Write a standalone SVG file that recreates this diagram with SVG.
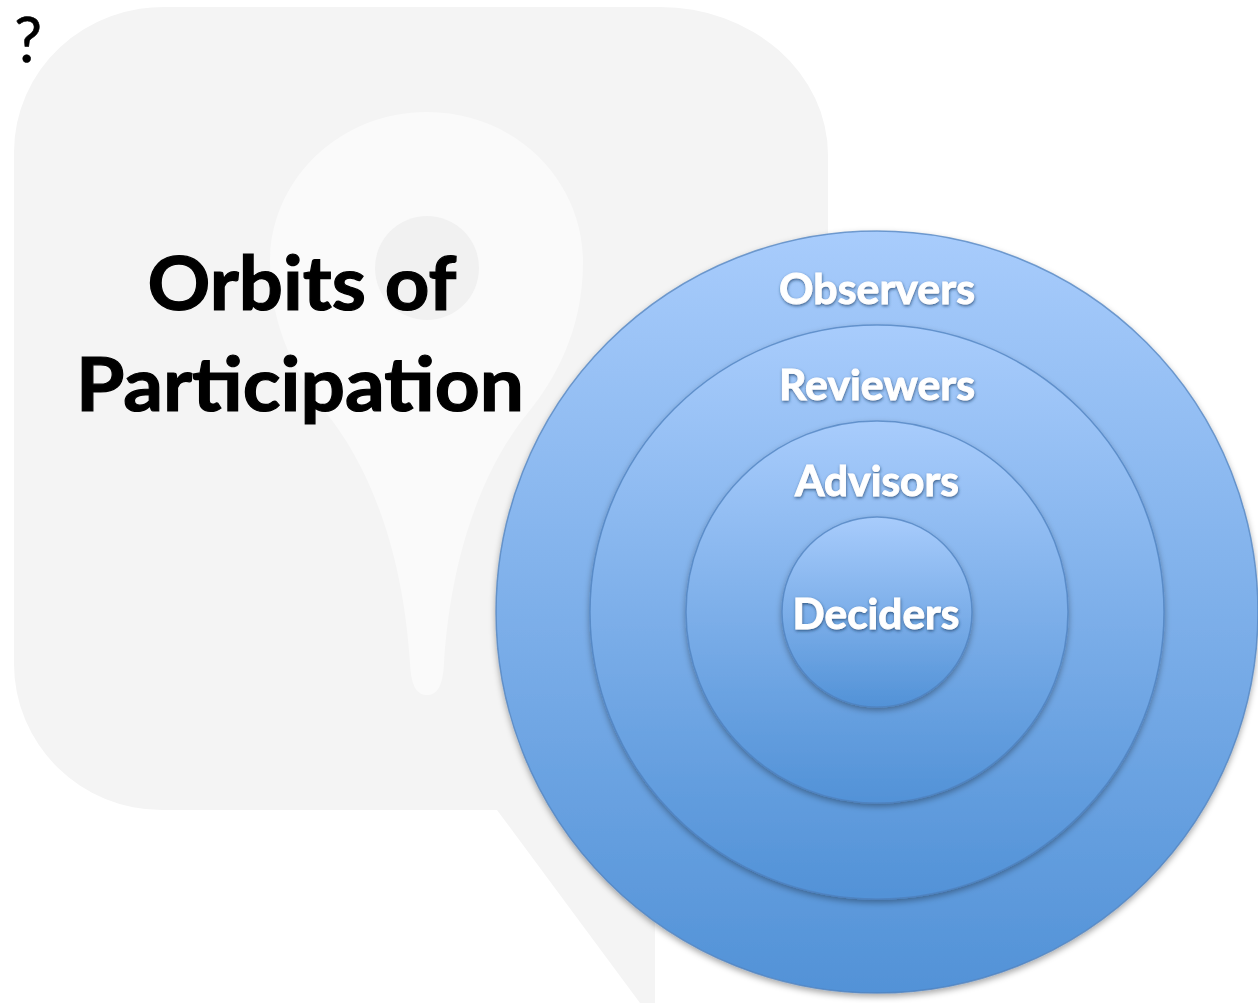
<svg xmlns="http://www.w3.org/2000/svg" width="1258" height="1003" viewBox="0 0 1258 1003">
  <defs>
    <linearGradient id="orbitGrad" x1="0" y1="0" x2="0" y2="1">
      <stop offset="0" stop-color="#a8ccfc"/>
      <stop offset="1" stop-color="#5292d7"/>
    </linearGradient>
    <filter id="circleShadow" x="-10%" y="-10%" width="120%" height="125%">
      <feDropShadow dx="0" dy="3" stdDeviation="3" flood-color="#000" flood-opacity="0.35"/>
    </filter>
    <filter id="textShadow" x="-10%" y="-20%" width="120%" height="150%">
      <feDropShadow dx="0.5" dy="1.5" stdDeviation="1.5" flood-color="#1f3d66" flood-opacity="0.75"/>
    </filter>
  </defs>
  <style>
    .orbit { fill: url(#orbitGrad); stroke: #4f82bf; stroke-opacity: 0.75; stroke-width: 1.5; filter: url(#circleShadow); }
    .label { font-family: Lato, "Open Sans", "Liberation Sans", sans-serif; font-weight: bold; font-size: 42px; fill: #ffffff; stroke: #ffffff; stroke-width: 0.9; text-anchor: middle; filter: url(#textShadow); }
    .title { font-family: Lato, "Open Sans", "Liberation Sans", sans-serif; font-weight: bold; font-size: 75px; fill: #000000; stroke: #000000; stroke-width: 1.2; text-anchor: middle; }
  </style>

  <g id="background">
    <path d="M 170,7 H 660 A 168 148 0 0 1 828,155 V 660 A 150 150 0 0 1 678,810 H 655 V 1003 H 640 L 497,810 H 162 A 148 146 0 0 1 14,664 V 152 A 150 145 0 0 1 170,7 Z" fill="#f4f4f4"/>
    <path d="M 427,112 C 515,112 583,180 583,262 C 583,330 555,380 527,414 C 490,460 452,540 444,663 C 443,688 436,695 427,695 C 418,695 411,688 410,663 C 402,540 364,460 327,414 C 299,380 270,330 270,262 C 270,180 339,112 427,112 Z" fill="#fafafa"/>
    <circle cx="427" cy="268" r="52" fill="#f1f1f1"/>
  </g>

  <g id="question-mark">
    <text x="28" y="62" font-family="Lato, 'Open Sans', 'Liberation Sans', sans-serif" font-size="62" fill="#000" stroke="#000" stroke-width="0.6" text-anchor="middle">?</text>
  </g>

  <g id="title">
    <text class="title" x="302" y="310" textLength="309" lengthAdjust="spacingAndGlyphs">Orbits of</text>
    <text class="title" x="300" y="411" textLength="448" lengthAdjust="spacingAndGlyphs">Participation</text>
  </g>

  <g id="observers">
    <circle class="orbit" cx="877" cy="612" r="381"/>
    <text class="label" x="877" y="304" textLength="196" lengthAdjust="spacingAndGlyphs">Observers</text>
  </g>
  <g id="reviewers">
    <circle class="orbit" cx="877" cy="612" r="287"/>
    <text class="label" x="877" y="400" textLength="196" lengthAdjust="spacingAndGlyphs">Reviewers</text>
  </g>
  <g id="advisors">
    <circle class="orbit" cx="877" cy="612" r="191"/>
    <text class="label" x="877" y="496" textLength="164" lengthAdjust="spacingAndGlyphs">Advisors</text>
  </g>
  <g id="deciders">
    <circle class="orbit" cx="877" cy="612" r="95"/>
    <text class="label" x="876" y="629" textLength="167" lengthAdjust="spacingAndGlyphs">Deciders</text>
  </g>
</svg>
